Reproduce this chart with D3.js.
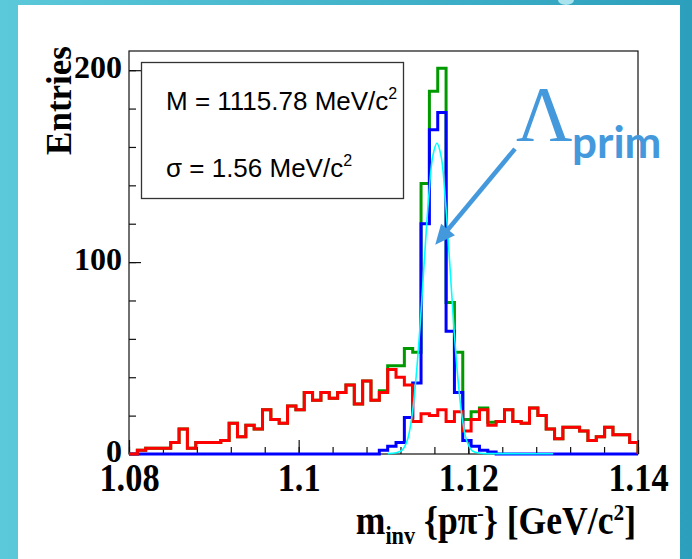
<!DOCTYPE html>
<html>
<head>
<meta charset="utf-8">
<script src="https://cdn.jsdelivr.net/npm/d3@7"></script>
<style>
  body { margin: 0; background: #fff; }
  svg { display: block; }
</style>
</head>
<body>
<script>
// histogram range, 61 equal bins
var xLow = 1.08, xHigh = 1.14;

// entries per bin
var redCounts = [0, 2, 3, 3, 3, 6, 13, 3, 6, 6,
                 6, 7, 16, 9, 15, 13, 23, 18, 16, 25,
                 23, 32, 28, 32, 29, 32, 36, 26, 38, 28,
                 32, 44, 40, 36, 17, 21, 20, 23, 17, 22,
                 12, 18, 23, 15, 17, 23, 17, 16, 24, 20,
                 13, 8, 14, 14, 12, 7, 9, 14, 10, 10,
                 6];
var blueCounts = [0, 0, 0, 0, 0, 0, 0, 0, 0, 0,
                  0, 0, 0, 0, 0, 0, 0, 0, 0, 0,
                  0, 0, 0, 0, 0, 0, 0, 0, 0, 0,
                  2, 4, 6, 19, 37, 120, 169, 178, 64, 32,
                  7, 4, 2, 1, 0, 0, 0, 0, 0, 0,
                  0, 0, 0, 0, 0, 0, 0, 0, 0, 0,
                  0];
var greenCounts = [0, 2, 3, 3, 3, 6, 13, 3, 6, 6,
                   6, 7, 16, 9, 15, 13, 23, 18, 16, 25,
                   23, 32, 28, 32, 29, 32, 36, 26, 38, 28,
                   33, 46, 46, 55, 53, 141, 189, 201, 79, 53,
                   18, 22, 24, 16.5, 17, 23, 17, 16, 24, 20,
                   13, 8, 14, 14, 12, 7, 9, 14, 10, 10,
                   6];

// fit curve
var fitMass = [1.1105, 1.1115, 1.1122, 1.1128, 1.1133, 1.1138, 1.1143, 1.1148, 1.1153, 1.1158, 1.1163,
               1.1168, 1.1173, 1.1178, 1.1183, 1.1188, 1.1193, 1.1198, 1.1205, 1.1215, 1.1240, 1.1300];
var fitEntries = [0.2, 0.6, 2, 7, 18, 38, 66, 100, 132, 155, 162,
                  155, 132, 100, 66, 38, 18, 7, 1.5, 0.4, 0.2, 0.1];

// axis ticks
var xMajor = [1.08, 1.10, 1.12, 1.14];
var xLabels = ["1.08", "1.1", "1.12", "1.14"];
var yMajor = [0, 100, 200];
var yLabels = ["0", "100", "200"];

var legendLines = ["M = 1115.78 MeV/c", "\u03c3 = 1.56 MeV/c"];

// annotation arrow (data units)
var arrowFrom = [1.1255, 159], arrowTo = [1.1161, 109];

var W = 692, H = 559;
var blueText = "#4499dd";

var svg = d3.select("body").append("svg")
    .attr("width", W)
    .attr("height", H);

// slide background
var grad = svg.append("defs").append("linearGradient")
    .attr("id", "slideGrad")
    .attr("x1", "0").attr("x2", "1").attr("y1", "0").attr("y2", "0");
grad.append("stop").attr("offset", "0%").attr("stop-color", "#5cc9da");
grad.append("stop").attr("offset", "100%").attr("stop-color", "#2c9fbc");

svg.append("rect").attr("width", W).attr("height", H).attr("fill", "url(#slideGrad)");
svg.append("ellipse").attr("cx", 566).attr("cy", 0).attr("rx", 8).attr("ry", 5).attr("fill", "#a9e3ee");
svg.append("rect").attr("x", 18).attr("y", 5).attr("width", 662).attr("height", H).attr("fill", "#fff");

// plot frame
var frame = {left: 129, right: 638, top: 51, bottom: 454};

var x = d3.scaleLinear().domain([xLow, xHigh]).range([frame.left, frame.right]);
var y = d3.scaleLinear().domain([0, 210]).range([frame.bottom, frame.top]);

svg.append("clipPath").attr("id", "frameClip")
  .append("rect")
    .attr("x", frame.left).attr("y", 0)
    .attr("width", frame.right - frame.left).attr("height", frame.bottom + 10);

svg.append("rect")
    .attr("x", frame.left).attr("y", frame.top)
    .attr("width", frame.right - frame.left)
    .attr("height", frame.bottom - frame.top)
    .attr("fill", "none")
    .attr("stroke", "#111")
    .attr("stroke-width", 1.2);

// ticks
var xMinor = d3.range(0, 16).map(function(i) { return xLow + i * 0.004; });
var yMinor = d3.range(0, 201, 20);

svg.append("g")
    .attr("transform", "translate(0," + frame.bottom + ")")
    .call(d3.axisBottom(x).tickValues(xMinor).tickSize(-7).tickSizeOuter(0).tickFormat(""))
    .call(function(g) { g.select(".domain").remove(); });

var gx = svg.append("g")
    .attr("transform", "translate(0," + frame.bottom + ")")
    .call(d3.axisBottom(x).tickValues(xMajor).tickSize(-14).tickSizeOuter(0)
        .tickFormat(function(d, i) { return xLabels[i]; }));
gx.select(".domain").remove();
gx.selectAll("text")
    .attr("y", 37)
    .attr("dy", null)
    .attr("transform", "scale(0.86,1)")
    .style("font-family", "'Liberation Serif', 'Times New Roman', serif")
    .style("font-weight", "bold")
    .style("font-size", "40px")
    .attr("fill", "#000");

svg.append("g")
    .attr("transform", "translate(" + frame.left + ",0)")
    .call(d3.axisLeft(y).tickValues(yMinor).tickSize(-7).tickSizeOuter(0).tickFormat(""))
    .call(function(g) { g.select(".domain").remove(); });

var gy = svg.append("g")
    .attr("transform", "translate(" + frame.left + ",0)")
    .call(d3.axisLeft(y).tickValues(yMajor).tickSize(-12).tickSizeOuter(0)
        .tickFormat(function(d, i) { return yLabels[i]; }));
gy.select(".domain").remove();
gy.selectAll("text")
    .attr("x", -7)
    .attr("dy", null)
    .attr("y", 7)
    .style("font-family", "'Liberation Serif', 'Times New Roman', serif")
    .style("font-weight", "bold")
    .style("font-size", "32px")
    .attr("fill", "#000");

svg.selectAll(".tick line").attr("stroke", "#111").attr("stroke-width", 1.2);

// histograms
function stepPoints(counts) {
    var w = (xHigh - xLow) / counts.length;
    var pts = [[xLow, 0]];
    counts.forEach(function(c, i) {
        pts.push([xLow + i * w, c]);
        pts.push([xLow + (i + 1) * w, c]);
    });
    pts.push([xHigh, 0]);
    return pts;
}

var stepLine = d3.line()
    .x(function(d) { return x(d[0]); })
    .y(function(d) { return y(d[1]); });

var hists = svg.append("g").attr("clip-path", "url(#frameClip)");

[[greenCounts, "#009a00"], [blueCounts, "#0000ff"], [redCounts, "#ff0000"]].forEach(function(h) {
    hists.append("path")
        .attr("d", stepLine(stepPoints(h[0])))
        .attr("fill", "none")
        .attr("stroke", h[1])
        .attr("stroke-width", 3)
        .attr("stroke-linejoin", "miter");
});

// fit
var fitLine = d3.line()
    .x(function(d, i) { return x(fitMass[i]); })
    .y(function(d) { return y(d); })
    .curve(d3.curveCatmullRom);

hists.append("path")
    .attr("d", fitLine(fitEntries))
    .attr("fill", "none")
    .attr("stroke", "#00ffff")
    .attr("stroke-width", 1.6);

// legend box
var leg = svg.append("g");
leg.append("rect")
    .attr("x", 141.5).attr("y", 62.5)
    .attr("width", 262).attr("height", 136)
    .attr("fill", "#fff")
    .attr("stroke", "#333")
    .attr("stroke-width", 1.3);

legendLines.forEach(function(t, i) {
    var tx = leg.append("text")
        .attr("x", 166)
        .attr("y", 110 + i * 67)
        .style("font-family", "'Liberation Sans', Arial, sans-serif")
        .style("font-size", "26px")
        .attr("fill", "#000");
    tx.append("tspan").text(t);
    tx.append("tspan").attr("dy", -11).style("font-size", "16px").text("2");
});

// axis titles
svg.append("text")
    .attr("transform", "translate(71,46) rotate(-90)")
    .attr("text-anchor", "end")
    .style("font-family", "'Liberation Serif', 'Times New Roman', serif")
    .style("font-weight", "bold")
    .style("font-size", "35px")
    .text("Entries");

var xt = svg.append("text")
    .attr("transform", "translate(636,534) scale(0.89,1)")
    .attr("text-anchor", "end")
    .style("font-family", "'Liberation Serif', 'Times New Roman', serif")
    .style("font-weight", "bold")
    .style("font-size", "40px");
xt.append("tspan").text("m");
xt.append("tspan").attr("dy", 10).style("font-size", "25px").text("inv");
xt.append("tspan").attr("dy", -10).text(" {p\u03c0");
xt.append("tspan").attr("dy", -14).style("font-size", "22px").text("-");
xt.append("tspan").attr("dy", 14).text("} [GeV/c");
xt.append("tspan").attr("dy", -14).style("font-size", "24px").text("2");
xt.append("tspan").attr("dy", 14).text("]");

// annotation
var p0 = [x(arrowFrom[0]), y(arrowFrom[1])], p1 = [x(arrowTo[0]), y(arrowTo[1])];
var dx = p1[0] - p0[0], dy = p1[1] - p0[1], len = Math.hypot(dx, dy);
var ux = dx / len, uy = dy / len;
var headL = 20, headW = 9;
var base = [p1[0] - ux * headL, p1[1] - uy * headL];

svg.append("line")
    .attr("x1", p0[0]).attr("y1", p0[1])
    .attr("x2", base[0] + ux * 2).attr("y2", base[1] + uy * 2)
    .attr("stroke", blueText)
    .attr("stroke-width", 4.5);
svg.append("polygon")
    .attr("points", [p1, [base[0] - uy * headW, base[1] + ux * headW], [base[0] + uy * headW, base[1] - ux * headW]]
        .map(function(p) { return p.join(","); }).join(" "))
    .attr("fill", blueText);

svg.append("text")
    .attr("x", p0[0] + 1)
    .attr("y", 140)
    .style("font-family", "'Liberation Serif', 'Times New Roman', serif")
    .style("font-size", "78px")
    .attr("fill", blueText)
    .text("\u039b");
svg.append("text")
    .attr("x", 572)
    .attr("y", 158)
    .style("font-family", "Lato, 'Open Sans', sans-serif")
    .style("font-weight", "bold")
    .style("font-size", "44px")
    .attr("fill", blueText)
    .text("prim");
</script>
</body>
</html>
